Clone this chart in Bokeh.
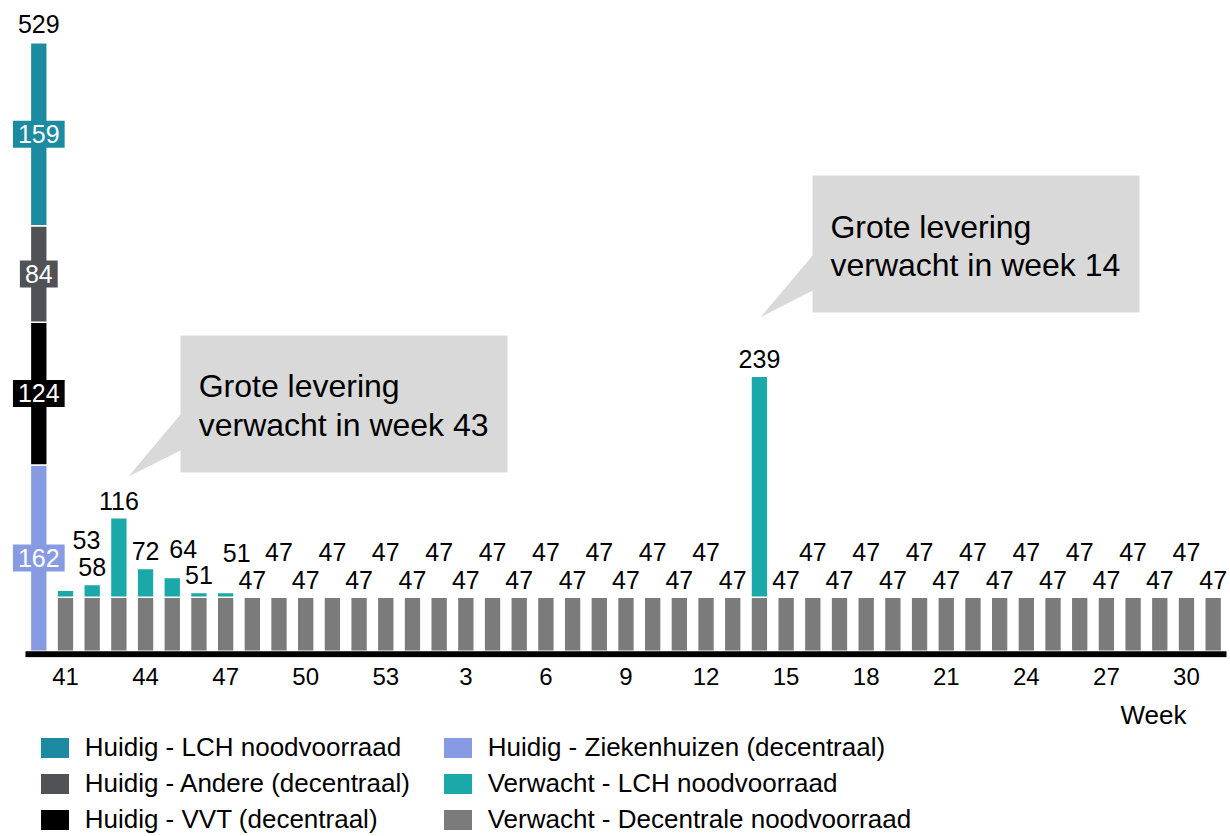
from bokeh.plotting import figure
from bokeh.layouts import column
from bokeh.models import ColumnDataSource, Range1d, FixedTicker, Legend, LegendItem
from bokeh.core.properties import value
from bokeh.embed import file_html
from bokeh.resources import INLINE

FONT = "Liberation Sans"

# ---------------- data ----------------
# current stock (one stacked bar)
current_series = ["Huidig - Ziekenhuizen (decentraal)", "Huidig - VVT (decentraal)",
                  "Huidig - Andere (decentraal)", "Huidig - LCH noodvoorraad"]
current_values = [162, 124, 84, 159]

# expected stock per week
expected_series = ["Verwacht - Decentrale noodvoorraad", "Verwacht - LCH noodvoorraad"]
weeks = [41, 42, 43, 44, 45, 46, 47, 48, 49, 50, 51, 52, 53,
         1, 2, 3, 4, 5, 6, 7, 8, 9, 10, 11, 12, 13, 14, 15, 16,
         17, 18, 19, 20, 21, 22, 23, 24, 25, 26, 27, 28, 29, 30, 31]
expected_decentral = [47, 47, 47, 47, 47, 47, 47, 47, 47, 47, 47, 47, 47,
                      47, 47, 47, 47, 47, 47, 47, 47, 47, 47, 47, 47, 47, 47, 47, 47,
                      47, 47, 47, 47, 47, 47, 47, 47, 47, 47, 47, 47, 47, 47, 47]
expected_lch = [6, 11, 69, 25, 17, 4, 4, 0, 0, 0, 0, 0, 0,
                0, 0, 0, 0, 0, 0, 0, 0, 0, 0, 0, 0, 0, 192, 0, 0,
                0, 0, 0, 0, 0, 0, 0, 0, 0, 0, 0, 0, 0, 0, 0]

tick_every = 3
axis_title = "Week"
callout_texts = [("Grote levering", "verwacht in week 43"),
                 ("Grote levering", "verwacht in week 14")]
legend_order = ["Huidig - LCH noodvoorraad", "Huidig - Andere (decentraal)",
                "Huidig - VVT (decentraal)", "Huidig - Ziekenhuizen (decentraal)",
                "Verwacht - LCH noodvoorraad", "Verwacht - Decentrale noodvoorraad"]

# ---------------- styles ----------------
C_ZKH = "#879be3"
C_VVT = "#000000"
C_AND = "#505256"
C_LCH = "#1c8aa0"
C_EXP_LCH = "#1aa8a8"
C_EXP_DEC = "#7b7b7b"
C_CALLOUT = "#d9d9d9"
current_colors = [C_ZKH, C_VVT, C_AND, C_LCH]
expected_colors = [C_EXP_DEC, C_EXP_LCH]
series_color = dict(zip(current_series + expected_series, current_colors + expected_colors))

BAR_W = 0.63
W = 1230
TOP_H = 696
FRAME_H = 657
BOT_H = 836 - TOP_H
PX_PER_X = 26.69          # pixels per bar slot
PX_PER_Y = 1.15           # pixels per unit
X0_PX = 38.3              # pixel position of first bar
Y0_PX = 650.7             # pixel position of value 0
WEEK_Y_PX = 714           # axis title centre (page px)

x_range = Range1d(-X0_PX / PX_PER_X, (W - X0_PX) / PX_PER_X)
y_range = Range1d((Y0_PX - FRAME_H) / PX_PER_Y, Y0_PX / PX_PER_Y)

p = figure(width=W, height=TOP_H, output_backend="svg", toolbar_location=None,
           x_range=x_range, y_range=y_range,
           y_axis_location=None, min_border_left=0, min_border_right=0,
           min_border_top=0, min_border_bottom=TOP_H - FRAME_H)
p.grid.visible = False
p.outline_line_color = None
p.background_fill_color = "white"
p.border_fill_color = "white"

# ---- current stacked bar ----
cur = {"x": [0]}
for name, v in zip(current_series, current_values):
    cur[name] = [v]
cur_src = ColumnDataSource(cur)
p.vbar_stack(current_series, x="x", width=BAR_W, source=cur_src,
             color=current_colors, line_color="white", line_width=1.5)

# ---- expected weekly bars ----
xs = list(range(1, len(weeks) + 1))
totals = [a + b for a, b in zip(expected_decentral, expected_lch)]
wk_src = ColumnDataSource(dict(x=xs, dec=expected_decentral, lch=expected_lch))
p.vbar_stack(["dec", "lch"], x="x", width=BAR_W, source=wk_src,
             color=expected_colors, line_color="white", line_width=1.5)

# ---- baseline (thick axis line under the bars) ----
p.segment(x0=[-0.5], x1=[len(weeks) + 0.5], y0=[-3 / PX_PER_Y], y1=[-3 / PX_PER_Y],
          line_color="black", line_width=6, line_cap="butt")

# segment labels of the current bar
mids, acc = [], 0
for v in current_values:
    mids.append(acc + v / 2)
    acc += v
seg_src = ColumnDataSource(dict(x=[0] * len(current_values), y=mids,
                                text=[str(v) for v in current_values],
                                bg=current_colors))
p.text(x="x", y="y", text="text", source=seg_src, text_color="white",
       text_align="center", text_baseline="middle", text_font=value(FONT),
       text_font_size="25px", background_fill_color="bg",
       padding=dict(left=5, right=5, top=4, bottom=5))

# total label on the current bar
p.text(x=[0], y=[sum(current_values)], text=[str(sum(current_values))],
       text_align="center", text_baseline="middle", text_font=value(FONT),
       text_font_size="25px", text_color="black", y_offset=-19)

# staggered value labels (layout only)
special_offsets = {(41, 0): (21, -50), (43, 0): (0, -17), (45, 0): (11, -29),
                   (47, 0): (11, -40), (14, 1): (0, -17.5)}
dxs, dys = [], []
for i, w in zip(xs, weeks):
    key = (w, 0 if i <= 13 else 1)
    if key in special_offsets:
        dx, dy = special_offsets[key]
    else:
        dx, dy = 0, (-45 if i % 2 == 1 else -17.5)
    dxs.append(dx)
    dys.append(dy)
lab_src = ColumnDataSource(dict(x=xs, y=totals, text=[str(t) for t in totals], dx=dxs, dy=dys))
p.text(x="x", y="y", text="text", source=lab_src, x_offset="dx", y_offset="dy",
       text_align="center", text_baseline="middle", text_font=value(FONT),
       text_font_size="25px", text_color="black")

# ---- callouts (geometry relative to the bar they point at, data units) ----
def week_pos(w, year_part):
    for i, ww in zip(xs, weeks):
        if ww == w and (0 if i <= 13 else 1) == year_part:
            return i

callouts = [
    dict(target=week_pos(43, 0), box=(2.31, 14.56, 39.4, 158.5), tail=(58.5, 89.8), tip=(0.36, 35.9),
         text_dx=2.99, lines_dy=(114.3, 81.1)),
    dict(target=week_pos(14, 1), box=(1.99, 14.24, 55.5, 174.7), tail=(74.6, 105.1), tip=(0.04, 51.4),
         text_dx=2.66, lines_dy=(129.7, 96.4)),
]
pxs, pys, tx, ty, tt = [], [], [], [], []
for c, lines in zip(callouts, callout_texts):
    bx = c["target"]
    by = totals[bx - 1]
    x0, x1, y0, y1 = c["box"]
    tl, th = c["tail"]
    tipx, tipy = c["tip"]
    pxs.append([bx + x0, bx + x1, bx + x1, bx + x0, bx + x0, bx + tipx, bx + x0])
    pys.append([by + y1, by + y1, by + y0, by + y0, by + tl, by + tipy, by + th])
    for ln, ldy in zip(lines, c["lines_dy"]):
        tx.append(bx + c["text_dx"])
        ty.append(by + ldy)
        tt.append(ln)
p.patches(xs=pxs, ys=pys, fill_color=C_CALLOUT, line_color=None)
p.text(x=tx, y=ty, text=tt, text_align="left", text_baseline="middle",
       text_font=value(FONT), text_font_size="32px", text_color="black")

# ---- axis (tick labels only; the line is drawn above) ----
tick_pos = xs[::tick_every]
p.xaxis.ticker = FixedTicker(ticks=tick_pos)
p.xaxis.major_label_overrides = {t: str(weeks[t - 1]) for t in tick_pos}
p.xaxis.axis_line_color = None
p.xaxis.major_tick_line_color = None
p.xaxis.minor_tick_line_color = None
p.xaxis.major_tick_out = 0
p.xaxis.major_tick_in = 0
p.xaxis.major_label_standoff = 10
p.xaxis.major_label_text_font = FONT
p.xaxis.major_label_text_font_size = "24px"
p.xaxis.major_label_text_color = "black"

# ---- lower strip: axis title + legend ----
q = figure(width=W, height=BOT_H, output_backend="svg", toolbar_location=None,
           x_range=x_range, y_range=Range1d(0, BOT_H),
           x_axis_location=None, y_axis_location=None,
           min_border_left=0, min_border_right=0, min_border_top=0, min_border_bottom=0)
q.grid.visible = False
q.outline_line_color = None
q.background_fill_color = "white"
q.border_fill_color = "white"

q.text(x=[tick_pos[-1]], y=[BOT_H - (WEEK_Y_PX - TOP_H)], text=[axis_title], text_align="right",
       text_baseline="middle", text_font=value(FONT), text_font_size="26px",
       text_color="black")

# legend proxies (one off-screen, zero-height bar each, only to carry the swatch style)
off_x = x_range.start - 10
items = []
for lab in legend_order:
    r = q.vbar(x=[off_x], top=[0], width=BAR_W, fill_color=series_color[lab], line_color=None)
    items.append(LegendItem(label=lab, renderers=[r]))
legend = Legend(items=items, location=(36.7, 1), orientation="vertical", nrows=3,
                glyph_width=35, glyph_height=25, label_height=31, label_width=350,
                label_standoff=13, spacing=5, margin=0, padding=0,
                border_line_color=None, background_fill_alpha=0, label_text_font=FONT,
                label_text_font_size="26px", label_text_color="black")
q.add_layout(legend)

open("out.html", "w").write(file_html(column(p, q, spacing=0), INLINE))
